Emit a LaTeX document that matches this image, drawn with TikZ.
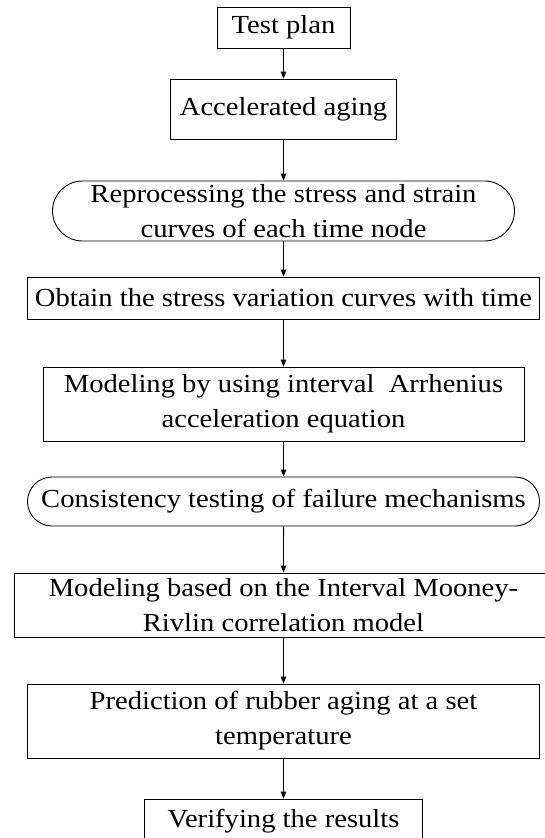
\documentclass[tikz,border=0pt]{standalone}
\usepackage{fontspec}
\setmainfont{Liberation Serif}[FakeStretch=1.1]
\usetikzlibrary{arrows.meta,shapes.misc}

\begin{document}
\begin{tikzpicture}[x=1pt,y=-1pt,
  font=\fontsize{26}{35}\selectfont,
  box/.style={draw,line width=0.9pt,align=center,inner sep=0pt},
  pill/.style={box,rounded rectangle,rounded rectangle arc length=180},
  flow/.style={-{Triangle[length=7pt,width=5.5pt]},line width=0.9pt}]
\useasboundingbox (0,0) rectangle (545,838);
\node[box,minimum width=133,minimum height=41] (plan) at (283.5,27.5) {Test plan};
\node[box,minimum width=226,minimum height=60] (aging) at (283.5,109) {Accelerated aging};
\node[pill,minimum width=462,minimum height=60] (reproc) at (283.5,211) {Reprocessing the stress and strain\\curves of each time node};
\node[box,minimum width=512,minimum height=42] (obtain) at (283.5,298) {Obtain the stress variation curves with time};
\node[box,minimum width=481,minimum height=74] (arrh) at (283.5,404) {Modeling by using interval~ Arrhenius\\acceleration equation};
\node[pill,minimum width=512,minimum height=49] (consist) at (283.5,501.5) {Consistency testing of failure mechanisms};
\node[box,minimum width=538,minimum height=64] (mooney) at (283.5,605) {Modeling based on the Interval Mooney-\\Rivlin correlation model};
\node[box,minimum width=512,minimum height=74] (predict) at (283.5,721) {Prediction of rubber aging at a set\\temperature};
\node[box,minimum width=278,minimum height=44] (verify) at (283.5,821) {Verifying the results};

\draw[flow] (plan) -- (aging);
\draw[flow] (aging) -- (reproc);
\draw[flow] (reproc) -- (obtain);
\draw[flow] (obtain) -- (arrh);
\draw[flow] (arrh) -- (consist);
\draw[flow] (consist) -- (mooney);
\draw[flow] (mooney) -- (predict);
\draw[flow] (predict) -- (verify);
\end{tikzpicture}
\end{document}
